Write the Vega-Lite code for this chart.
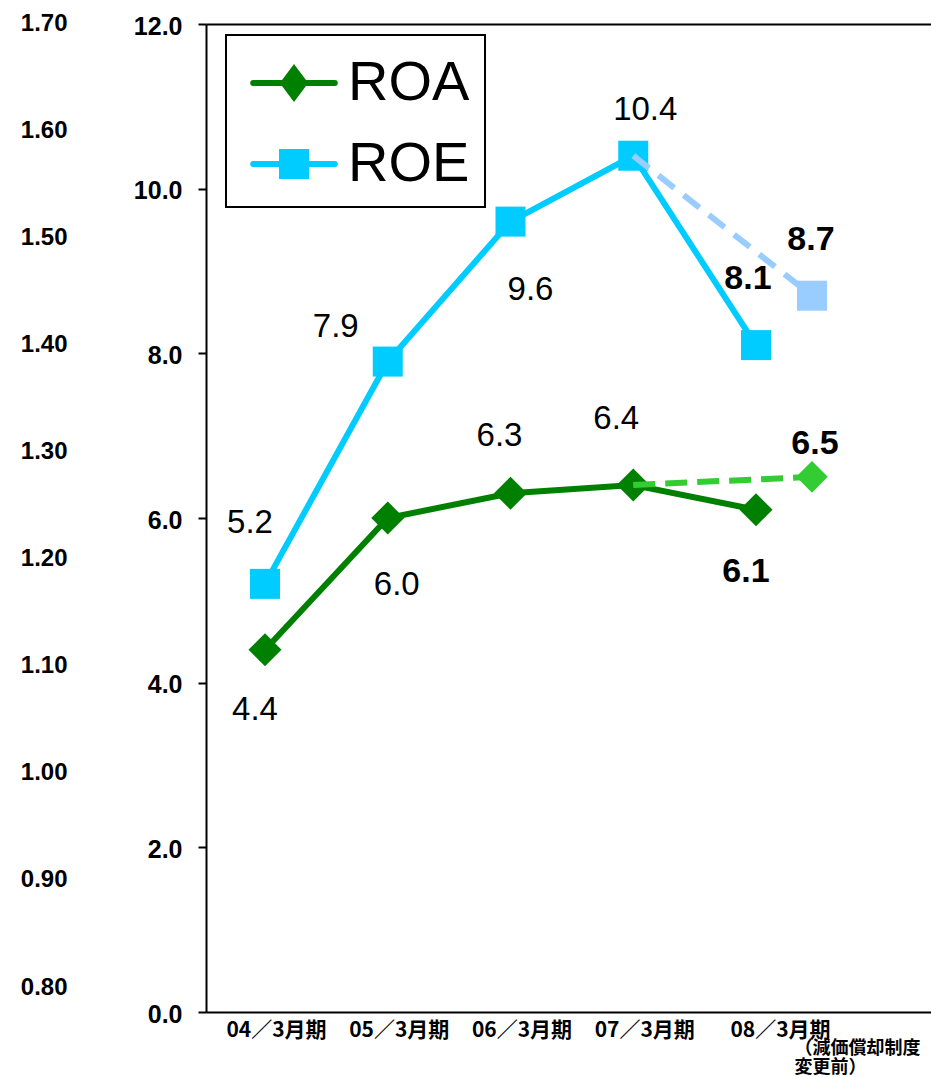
{
  "$schema": "https://vega.github.io/schema/vega-lite/v6.json",
  "width": 725,
  "height": 988,
  "autosize": {"type": "none"},
  "padding": {"left": 206, "top": 24, "right": 0, "bottom": 65},
  "background": "white",
  "config": {
    "view": {"stroke": null},
    "font": "Liberation Sans",
    "text": {"font": "Liberation Sans", "fontSize": 33, "color": "black", "align": "center", "baseline": "middle"},
    "legend": {"strokeColor": "black", "strokeWidth": 2}
  },
  "datasets": {
    "rates": [
      {"series": "ROA", "period": 1, "basis": "reported", "value": 4.4},
      {"series": "ROA", "period": 2, "basis": "reported", "value": 6.0},
      {"series": "ROA", "period": 3, "basis": "reported", "value": 6.3},
      {"series": "ROA", "period": 4, "basis": "reported", "value": 6.4},
      {"series": "ROA", "period": 5, "basis": "reported", "value": 6.1},
      {"series": "ROA", "period": 5.456, "basis": "pre-change", "value": 6.5},
      {"series": "ROE", "period": 1, "basis": "reported", "value": 5.2},
      {"series": "ROE", "period": 2, "basis": "reported", "value": 7.9},
      {"series": "ROE", "period": 3, "basis": "reported", "value": 9.6},
      {"series": "ROE", "period": 4, "basis": "reported", "value": 10.4},
      {"series": "ROE", "period": 5, "basis": "reported", "value": 8.1},
      {"series": "ROE", "period": 5.456, "basis": "pre-change", "value": 8.7}
    ],
    "secondaryScale": [{"ratio": 0.8}, {"ratio": 1.7}]
  },
  "resolve": {"scale": {"y": "independent"}},
  "layer": [
    {
      "data": {"name": "rates"},
      "encoding": {
        "x": {
          "field": "period", "type": "quantitative",
          "scale": {"domain": [0.5193, 6.4257], "nice": false, "zero": false},
          "axis": {
            "values": [1, 2, 3, 4, 5, 5.456],
            "title": null, "grid": false, "ticks": false, "tickSize": 0,
            "domainColor": "black", "domainWidth": 2,
            "labelPadding": {"expr": "datum.value > 5.2 ? 27 : 7"},
            "labelFont": "Noto Sans CJK JP", "labelFontWeight": "bold",
            "labelFontSize": {"condition": {"test": "datum.value > 5.2", "value": 18}, "value": 21},
            "labelColor": "black", "labelOverlap": false, "labelFlush": false, "labelBound": false,
            "labelLineHeight": 19.5,
            "labelAlign": {"condition": {"test": "datum.value > 5.2", "value": "left"}, "value": "center"},
            "labelOffset": {"expr": "datum.value > 5.2 ? -18 : (datum.value > 4.5 ? 24 : 11)"},
            "labelExpr": "datum.value > 5.2 ? ['（減価償却制度', '変更前）'] : ['', '04／3月期', '05／3月期', '06／3月期', '07／3月期', '08／3月期'][round(datum.value)]"
          }
        },
        "y": {
          "field": "value", "type": "quantitative",
          "scale": {"domain": [0, 12], "nice": false},
          "axis": {
            "values": [0, 2, 4, 6, 8, 10, 12], "format": ".1f", "title": null,
            "domainColor": "black", "domainWidth": 2,
            "tickColor": "black", "tickWidth": 2, "tickSize": 8,
            "labelPadding": 16, "labelFont": "Liberation Sans", "labelFontWeight": "bold",
            "labelFontSize": 25, "labelColor": "black", "labelOffset": 2, "labelFlush": false,
            "grid": true, "gridColor": "black", "gridWidth": 2,
            "gridOpacity": {"condition": {"test": "datum.value >= 12", "value": 1}, "value": 0}
          }
        }
      },
      "layer": [
        {
          "transform": [{"filter": "datum.basis === 'reported'"}],
          "mark": {"type": "line", "strokeWidth": 6},
          "encoding": {
            "color": {
              "field": "series", "type": "nominal",
              "scale": {"domain": ["ROA", "ROE"], "range": ["#008000", "#00CCFF"]},
              "legend": {
                "title": null, "orient": "none", "legendX": 20, "legendY": 11,
                "strokeColor": "black", "padding": 15,
                "symbolSize": 3600, "symbolOffset": 20, "rowPadding": 20,
                "labelFontSize": 56, "labelFont": "Liberation Sans", "labelOffset": 21, "labelColor": "black",
                "symbolStrokeWidth": 6,
                "encode": {
                  "symbols": {
                    "update": {
                      "shape": {"signal": "datum.value === 'ROA' ? 'M-1.36,0H1.36M-0.35,0L0,-0.47L0.35,0L0,0.47Z' : 'M-1.36,0H1.36M-0.4,-0.4H0.4V0.4H-0.4Z'"},
                      "fill": {"scale": "color", "field": "value"},
                      "stroke": {"scale": "color", "field": "value"},
                      "strokeWidth": {"value": 6},
                      "strokeCap": {"value": "round"},
                      "opacity": {"value": 1}
                    }
                  }
                }
              }
            }
          }
        },
        {
          "transform": [{"filter": "datum.basis === 'reported' && datum.series === 'ROA'"}],
          "mark": {"type": "point", "shape": "diamond", "filled": true, "size": 1089, "color": "#008000", "opacity": 1}
        },
        {
          "transform": [{"filter": "datum.basis === 'reported' && datum.series === 'ROE'"}],
          "mark": {"type": "point", "shape": "square", "filled": true, "size": 900, "color": "#00CCFF", "opacity": 1}
        },
        {
          "transform": [{"filter": "datum.series === 'ROE' && (datum.period === 4 || datum.basis === 'pre-change')"}],
          "mark": {"type": "line", "strokeWidth": 6, "color": "#99CCFF", "strokeDash": [20, 12]}
        },
        {
          "transform": [{"filter": "datum.series === 'ROA' && (datum.period === 4 || datum.basis === 'pre-change')"}],
          "mark": {"type": "line", "strokeWidth": 6, "color": "#33CC33", "strokeDash": [22, 10]}
        },
        {
          "transform": [{"filter": "datum.basis === 'pre-change' && datum.series === 'ROE'"}],
          "mark": {"type": "point", "shape": "square", "filled": true, "size": 900, "color": "#99CCFF", "opacity": 1}
        },
        {
          "transform": [{"filter": "datum.basis === 'pre-change' && datum.series === 'ROA'"}],
          "mark": {"type": "point", "shape": "diamond", "filled": true, "size": 1000, "color": "#33CC33", "opacity": 1}
        },
        {
          "transform": [{"filter": "datum.series === 'ROE' && datum.period === 1"}],
          "mark": {"type": "text", "dx": -15, "dy": -61},
          "encoding": {"text": {"field": "value", "type": "quantitative", "format": ".1f"}}
        },
        {
          "transform": [{"filter": "datum.series === 'ROE' && datum.period === 2"}],
          "mark": {"type": "text", "dx": -52, "dy": -35},
          "encoding": {"text": {"field": "value", "type": "quantitative", "format": ".1f"}}
        },
        {
          "transform": [{"filter": "datum.series === 'ROE' && datum.period === 3"}],
          "mark": {"type": "text", "dx": 20, "dy": 68},
          "encoding": {"text": {"field": "value", "type": "quantitative", "format": ".1f"}}
        },
        {
          "transform": [{"filter": "datum.series === 'ROE' && datum.period === 4"}],
          "mark": {"type": "text", "dx": 12, "dy": -46},
          "encoding": {"text": {"field": "value", "type": "quantitative", "format": ".1f"}}
        },
        {
          "transform": [{"filter": "datum.series === 'ROE' && datum.period === 5"}],
          "mark": {"type": "text", "dx": -8, "dy": -66, "fontWeight": "bold", "fontSize": 34},
          "encoding": {"text": {"field": "value", "type": "quantitative", "format": ".1f"}}
        },
        {
          "transform": [{"filter": "datum.series === 'ROE' && datum.basis === 'pre-change'"}],
          "mark": {"type": "text", "dx": -1, "dy": -56, "fontWeight": "bold", "fontSize": 34},
          "encoding": {"text": {"field": "value", "type": "quantitative", "format": ".1f"}}
        },
        {
          "transform": [{"filter": "datum.series === 'ROA' && datum.period === 1"}],
          "mark": {"type": "text", "dx": -10, "dy": 60},
          "encoding": {"text": {"field": "value", "type": "quantitative", "format": ".1f"}}
        },
        {
          "transform": [{"filter": "datum.series === 'ROA' && datum.period === 2"}],
          "mark": {"type": "text", "dx": 9, "dy": 67},
          "encoding": {"text": {"field": "value", "type": "quantitative", "format": ".1f"}}
        },
        {
          "transform": [{"filter": "datum.series === 'ROA' && datum.period === 3"}],
          "mark": {"type": "text", "dx": -11, "dy": -57},
          "encoding": {"text": {"field": "value", "type": "quantitative", "format": ".1f"}}
        },
        {
          "transform": [{"filter": "datum.series === 'ROA' && datum.period === 4"}],
          "mark": {"type": "text", "dx": -17, "dy": -66},
          "encoding": {"text": {"field": "value", "type": "quantitative", "format": ".1f"}}
        },
        {
          "transform": [{"filter": "datum.series === 'ROA' && datum.period === 5"}],
          "mark": {"type": "text", "dx": -10, "dy": 62, "fontWeight": "bold", "fontSize": 34},
          "encoding": {"text": {"field": "value", "type": "quantitative", "format": ".1f"}}
        },
        {
          "transform": [{"filter": "datum.series === 'ROA' && datum.basis === 'pre-change'"}],
          "mark": {"type": "text", "dx": 3, "dy": -33, "fontWeight": "bold", "fontSize": 34},
          "encoding": {"text": {"field": "value", "type": "quantitative", "format": ".1f"}}
        }
      ]
    },
    {
      "data": {"name": "secondaryScale"},
      "mark": {"type": "point", "opacity": 0},
      "encoding": {
        "y": {
          "field": "ratio", "type": "quantitative",
          "scale": {"domain": [0.7776, 1.7], "nice": false, "zero": false},
          "axis": {
            "orient": "left", "values": [0.8, 0.9, 1.0, 1.1, 1.2, 1.3, 1.4, 1.5, 1.6, 1.7],
            "format": ".2f", "title": null, "domain": false, "ticks": false, "tickSize": 0, "grid": false,
            "labelPadding": 139, "labelFont": "Liberation Sans", "labelFontWeight": "bold",
            "labelFontSize": 24, "labelColor": "black", "labelOffset": -1, "labelFlush": false
          }
        }
      }
    }
  ]
}
